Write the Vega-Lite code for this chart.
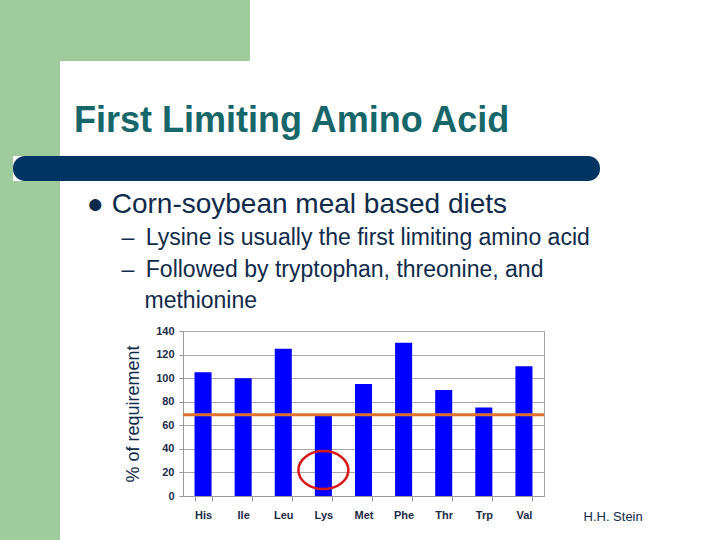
{
  "$schema": "https://vega.github.io/schema/vega-lite/v6.json",
  "background": "white",
  "padding": 0,
  "autosize": {"type": "pad"},
  "bounds": "flush",
  "spacing": 0,
  "config": {
    "font": "Liberation Sans",
    "view": {"stroke": null},
    "title": {"font": "Liberation Sans"}
  },
  "datasets": {
    "aminoAcids": [
      {"acid": "His", "pct": 105},
      {"acid": "Ile", "pct": 100},
      {"acid": "Leu", "pct": 125},
      {"acid": "Lys", "pct": 68},
      {"acid": "Met", "pct": 95},
      {"acid": "Phe", "pct": 130},
      {"acid": "Thr", "pct": 90},
      {"acid": "Trp", "pct": 75},
      {"acid": "Val", "pct": 110}
    ],
    "requirement": [{"pct": 69}],
    "highlight": [{"acid": "Lys", "pct": 22}],
    "blank": []
  },
  "vconcat": [
    {
      "width": 250,
      "height": 61,
      "data": {"name": "blank"},
      "mark": "rect",
      "view": {"fill": "#9fcc9c", "stroke": null}
    },
    {
      "width": 60,
      "height": 95,
      "data": {"name": "blank"},
      "mark": "rect",
      "view": {"fill": "#9fcc9c", "stroke": null}
    },
    {
      "bounds": "flush",
      "spacing": 0,
      "hconcat": [
        {
          "width": 13,
          "height": 25,
          "data": {"name": "blank"},
          "mark": "rect",
          "view": {"fill": "#9fcc9c", "stroke": null}
        },
        {
          "width": 587,
          "height": 25,
          "data": {"name": "blank"},
          "mark": "rect",
          "view": {"fill": "#003462", "stroke": null, "cornerRadius": 12},
          "title": {
            "text": "First Limiting Amino Acid",
            "anchor": "start",
            "frame": "group",
            "baseline": "alphabetic",
            "dx": 61,
            "dy": 34,
            "offset": 22,
            "fontSize": 36,
            "fontWeight": "bold",
            "color": "#17666a"
          }
        }
      ]
    },
    {
      "width": 1,
      "height": 25,
      "data": {"name": "blank"},
      "mark": "rect"
    },
    {
      "bounds": "flush",
      "spacing": 0,
      "hconcat": [
        {
          "width": 60,
          "height": 359,
          "data": {"name": "blank"},
          "mark": "rect",
          "view": {"fill": "#9fcc9c", "stroke": null}
        },
        {
          "width": 123,
          "height": 359,
          "data": {"name": "blank"},
          "mark": "rect"
        },
        {
          "bounds": "flush",
          "spacing": 0,
          "vconcat": [
            {
              "width": 361,
              "height": 150,
              "data": {"name": "blank"},
              "mark": "rect"
            },
            {
              "width": 361,
              "height": 165,
              "view": {"stroke": "#a0a0a0"},
              "title": {
                "text": "● Corn-soybean meal based diets",
                "subtitle": [
                  "\u200b\u2002\u2002\u2002–\u2002Lysine is usually the first limiting amino acid",
                  "\u200b\u2002\u2002\u2002–\u2002Followed by tryptophan, threonine, and",
                  "\u200b\u2002\u2002\u2002\u2002\u2002methionine"
                ],
                "anchor": "start",
                "frame": "group",
                "dx": -96,
                "offset": 12,
                "fontSize": 28,
                "fontWeight": "normal",
                "color": "#0f2a4a",
                "subtitleFontSize": 23,
                "subtitleColor": "#0f2a4a",
                "subtitleLineHeight": 31.5,
                "subtitlePadding": 8
              },
              "layer": [
                {
                  "data": {"name": "aminoAcids"},
                  "mark": {"type": "bar", "color": "#0000ff"},
                  "encoding": {
                    "x": {
                      "field": "acid",
                      "type": "nominal",
                      "scale": {
                        "domain": ["His", "Ile", "Leu", "Lys", "Met", "Phe", "Thr", "Trp", "Val"],
                        "paddingInner": 0.575,
                        "paddingOuter": 0.2875
                      },
                      "axis": {
                        "title": "H.H. Stein",
                        "titleFontSize": 13,
                        "titleFontWeight": "normal",
                        "titleColor": "#0f2a4a",
                        "titleAnchor": "end",
                        "titleAlign": "left",
                        "titleBaseline": "middle",
                        "titleX": 400,
                        "titleY": 20,
                        "labelAngle": 0,
                        "labelFontSize": 11,
                        "labelFontWeight": "bold",
                        "labelColor": "#1c2b4a",
                        "labelPadding": 8,
                        "tickBand": "extent",
                        "tickSize": 5,
                        "tickColor": "#999999",
                        "domainColor": "#999999",
                        "grid": false
                      }
                    },
                    "y": {
                      "field": "pct",
                      "type": "quantitative",
                      "scale": {"domain": [0, 140], "nice": false},
                      "axis": {
                        "title": "% of requirement",
                        "titleFontSize": 18,
                        "titleFontWeight": "normal",
                        "titleColor": "#0f2a4a",
                        "titlePadding": 13,
                        "values": [0, 20, 40, 60, 80, 100, 120, 140],
                        "labelOverlap": false,
                        "labelFontSize": 11,
                        "labelFontWeight": "bold",
                        "labelColor": "#1c2b4a",
                        "labelPadding": 5,
                        "tickSize": 4,
                        "tickColor": "#999999",
                        "domainColor": "#999999",
                        "gridColor": "#a8a8a8"
                      }
                    }
                  }
                },
                {
                  "data": {"name": "requirement"},
                  "mark": {"type": "rule", "color": "#e0702e", "strokeWidth": 3},
                  "encoding": {
                    "y": {
                      "field": "pct",
                      "type": "quantitative",
                      "axis": {
                        "title": "% of requirement",
                        "titleFontSize": 18,
                        "titleFontWeight": "normal",
                        "titleColor": "#0f2a4a",
                        "titlePadding": 13,
                        "values": [0, 20, 40, 60, 80, 100, 120, 140],
                        "labelOverlap": false,
                        "labelFontSize": 11,
                        "labelFontWeight": "bold",
                        "labelColor": "#1c2b4a",
                        "labelPadding": 5,
                        "tickSize": 4,
                        "tickColor": "#999999",
                        "domainColor": "#999999",
                        "gridColor": "#a8a8a8"
                      }
                    }
                  }
                },
                {
                  "data": {"name": "highlight"},
                  "mark": {
                    "type": "point",
                    "shape": "M -1 0 A 1 0.76 0 1 0 1 0 A 1 0.76 0 1 0 -1 0 Z",
                    "size": 2500,
                    "filled": false,
                    "stroke": "#d81818",
                    "strokeWidth": 2.5,
                    "opacity": 1
                  },
                  "encoding": {
                    "x": {"field": "acid", "type": "nominal"},
                    "y": {
                      "field": "pct",
                      "type": "quantitative",
                      "axis": {
                        "title": "% of requirement",
                        "titleFontSize": 18,
                        "titleFontWeight": "normal",
                        "titleColor": "#0f2a4a",
                        "titlePadding": 13,
                        "values": [0, 20, 40, 60, 80, 100, 120, 140],
                        "labelOverlap": false,
                        "labelFontSize": 11,
                        "labelFontWeight": "bold",
                        "labelColor": "#1c2b4a",
                        "labelPadding": 5,
                        "tickSize": 4,
                        "tickColor": "#999999",
                        "domainColor": "#999999",
                        "gridColor": "#a8a8a8"
                      }
                    }
                  }
                }
              ]
            }
          ]
        }
      ]
    }
  ]
}
